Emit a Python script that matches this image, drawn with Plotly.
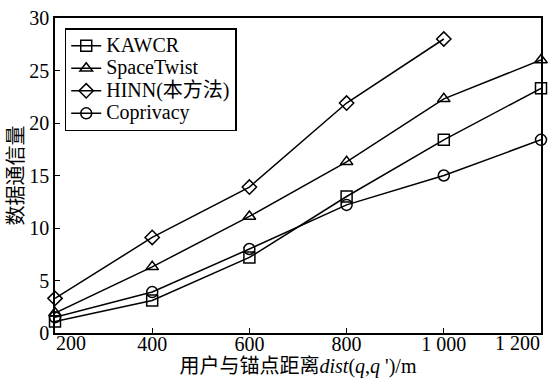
import plotly.graph_objects as go

# Distance between user and anchor (m)
distance = [200, 400, 600, 800, 1000, 1200]
x_tick_text = ["200", "400", "600", "800", "1 000", "1 200"]

# Communication volume per method
kawcr = [1.1, 3.1, 7.2, 13.0, 18.4, 23.3]
spacetwist = [1.9, 6.3, 11.1, 16.3, 22.3, 26.0]
hinn = [3.3, 9.1, 13.9, 21.9, 28.0]
coprivacy = [1.5, 3.9, 8.0, 12.2, 15.0, 18.4]

series = [
    ("KAWCR", distance, kawcr, "square-open"),
    ("SpaceTwist", distance, spacetwist, "triangle-up-open"),
    ("HINN(本方法)", distance[:5], hinn, "diamond-open"),
    ("Coprivacy", distance, coprivacy, "circle-open"),
]

FONT = "Liberation Serif, Times New Roman, Noto Sans CJK SC, serif"
LABEL_SHIFT = -8  # pull x tick labels up towards the axis


def legend_name(text):
    # larger glyphs on a compact legend row pitch
    return f'<span style="font-size:20px">{text}</span>'


fig = go.Figure()
for name, xs, ys, sym in series:
    fig.add_trace(go.Scatter(
        x=xs, y=ys, name=legend_name(name), mode="lines+markers",
        line=dict(color="black", width=1.5),
        marker=dict(symbol=sym, size=11, color="black",
                    line=dict(color="black", width=1.5)),
        cliponaxis=False,
    ))

# Inner tick labels come from the axis; the two edge labels are anchored
# inward so they stay inside the figure.
inner_text = [""] + x_tick_text[1:-1] + [""]
for xv, txt, anchor in [(distance[0], x_tick_text[0], "left"),
                        (distance[-1], x_tick_text[-1], "right")]:
    fig.add_annotation(
        x=xv, y=0, xref="x", yref="paper", text=txt, showarrow=False,
        xanchor=anchor, yanchor="top", yshift=2, borderpad=0,
        font=dict(family=FONT, size=20, color="black"),
    )

fig.update_layout(
    width=555, height=385,
    margin=dict(l=55, r=14, t=18, b=52),
    paper_bgcolor="white", plot_bgcolor="white",
    font=dict(family=FONT, size=20, color="black"),
    showlegend=True,
    legend=dict(
        x=0.02, y=0.968, xanchor="left", yanchor="top",
        bordercolor="black", borderwidth=1.5, bgcolor="white",
        font=dict(family=FONT, size=15), tracegroupgap=0,
        itemwidth=30,
    ),
    xaxis=dict(
        range=[200, 1200], tickvals=distance, ticktext=inner_text,
        ticklabelstandoff=LABEL_SHIFT, automargin=False,
        showgrid=False, zeroline=False, showline=True, linecolor="black",
        linewidth=1.5, mirror=True, ticks="inside", ticklen=5,
        tickcolor="black",
        title=dict(text="用户与锚点距离<i>dist</i>(<i>q</i>,<i>q</i> ')/m",
                   font=dict(size=20), standoff=0),
    ),
    yaxis=dict(
        range=[0, 30], tickvals=[0, 5, 10, 15, 20, 25, 30],
        automargin=False,
        showgrid=False, zeroline=False, showline=True, linecolor="black",
        linewidth=1.5, mirror=True, ticks="inside", ticklen=5,
        tickcolor="black",
        title=dict(text="数据通信量", font=dict(size=20), standoff=0),
    ),
)

fig.write_html("out.html")
